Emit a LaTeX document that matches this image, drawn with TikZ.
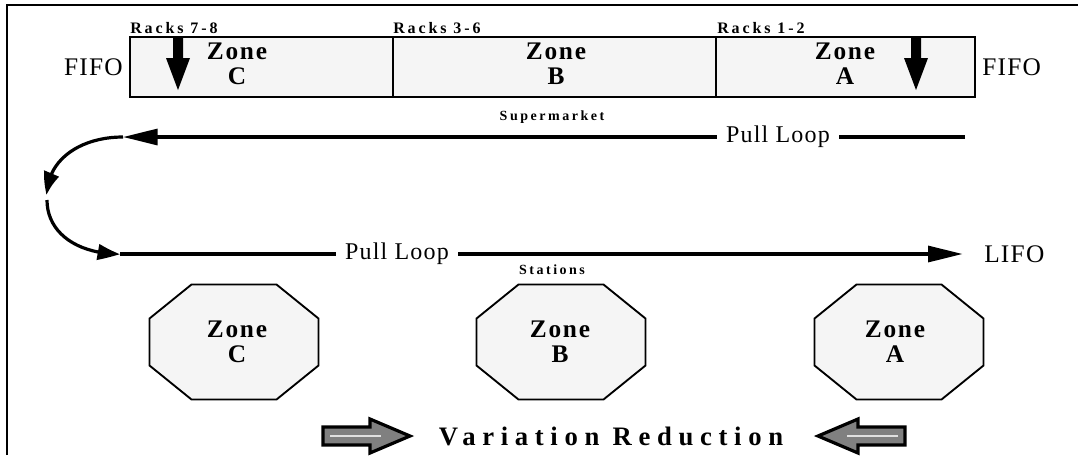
\documentclass[tikz,border=0pt]{standalone}
\usepackage{fontspec}
\setmainfont{Liberation Serif}
\usetikzlibrary{arrows.meta,bending}
\tikzset{
  frameline/.style={line width=1.5pt},
  rackbox/.style={draw, line width=1.4pt, fill=black!4, inner sep=0pt,
    minimum height=60*0.75pt},
  zonetext/.style={align=center, inner sep=0pt,
    font={\fontsize{19}{18.5}\selectfont\bfseries\addfontfeature{LetterSpace=7}}},
  rackslabel/.style={anchor=west, inner sep=0pt,
    font={\fontsize{12}{13}\selectfont\bfseries\addfontfeature{LetterSpace=18}}},
  smalllabel/.style={inner sep=0pt,
    font={\fontsize{10.5}{12}\selectfont\bfseries\addfontfeature{LetterSpace=18}}},
  bigword/.style={inner sep=0pt,
    font={\fontsize{19}{20}\selectfont\addfontfeature{LetterSpace=5}}},
  pullword/.style={inner sep=7pt,
    font={\fontsize{18}{20}\selectfont\addfontfeature{LetterSpace=5}}},
  titleword/.style={inner sep=0pt,
    font={\fontsize{20}{22}\selectfont\bfseries\addfontfeature{LetterSpace=25}}},
  loopline/.style={line width=2.4pt},
  looptip/.style={-{Triangle[length=26pt,width=12pt]}},
  curvetip/.style={-{Triangle[length=17pt,width=11.5pt,bend]}},
  octline/.style={draw, line width=1.4pt, fill=black!4},
  octagon/.pic={
    \path[octline] (-42.5,-57.5) -- (42.5,-57.5) -- (84.5,-23.5) -- (84.5,23.5)
      -- (42.5,57.5) -- (-42.5,57.5) -- (-84.5,23.5) -- (-84.5,-23.5) -- cycle;
  },
  droparrow/.pic={
    \fill (-5,0) -- (5,0) -- (5,21) -- (12,21) -- (0,53) -- (-12,21) -- (-5,21) -- cycle;
  },
  fatarrow/.pic={
    \path[draw=black, line width=2.4pt, fill=black!50, line join=miter]
      (0,-9) -- (47,-9) -- (47,-17) -- (87,0) -- (47,17) -- (47,9) -- (0,9) -- cycle;
    \draw[black!12, line width=2pt] (7,0) -- (58,0);
  }
}
\begin{document}
\begin{tikzpicture}[x=0.75pt,y=-0.75pt]
  \useasboundingbox (0,0) rectangle (1078,455);

  % outer frame (top and left edges)
  \draw[frameline] (7,455) -- (7,5) -- (1078,5);

  % supermarket racks
  \node[rackbox, minimum width=263*0.75pt] (rackC) at (261.5,67) {};
  \node[rackbox, minimum width=323*0.75pt] (rackB) at (554.5,67) {};
  \node[rackbox, minimum width=259*0.75pt] (rackA) at (845.5,67) {};

  \node[rackslabel] (lblC) at (130,28) {Racks 7-8};
  \node[rackslabel] (lblB) at (393,28) {Racks 3-6};
  \node[rackslabel] (lblA) at (717,28) {Racks 1-2};

  \node[zonetext] (zC) at (237,64) {Zone\\C};
  \node[zonetext] (zB) at (556,64) {Zone\\B};
  \node[zonetext] (zA) at (845,64) {Zone\\A};

  \pic at (178,37) {droparrow};
  \pic at (916,37) {droparrow};

  \node[bigword, anchor=east] (fifoL) at (123,67) {FIFO};
  \node[bigword, anchor=west] (fifoR) at (982,67) {FIFO};

  \node[smalllabel] (market) at (552,117) {Supermarket};

  % pull loops
  \coordinate (topR) at (965,137);
  \coordinate (topL) at (123,137);
  \coordinate (midU) at (47,195);
  \coordinate (midL) at (47,200);
  \coordinate (botL) at (120,254);
  \node[pullword] (pullTop) at (778,137) {Pull Loop};
  \node[pullword] (pullBot) at (397,254) {Pull Loop};
  \node[bigword, anchor=west] (lifo) at (984,254) {LIFO};

  \draw[loopline] (topR) -- (pullTop.east);
  \draw[loopline, looptip] (pullTop.west) -- (topL);
  \draw[loopline, curvetip] (topL) .. controls (80,137) and (47,160) .. (midU);
  \draw[loopline, curvetip] (midL) .. controls (47,232) and (76,254) .. (botL);
  \draw[loopline] (botL) -- (pullBot.west);
  \draw[loopline, looptip] (pullBot.east) -- ([xshift=-16pt]lifo.west);

  \node[smalllabel] (stations) at (552,270) {Stations};

  % stations
  \pic at (234,342) {octagon};
  \pic at (561,342) {octagon};
  \pic at (899,342) {octagon};
  \node[zonetext] (sC) at (237,342) {Zone\\C};
  \node[zonetext] (sB) at (560,342) {Zone\\B};
  \node[zonetext] (sA) at (895,342) {Zone\\A};

  % variation reduction
  \node[titleword] (title) at (611,436) {Variation Reduction};
  \pic at (323,436) {fatarrow};
  \pic[xscale=-1] at (905,436) {fatarrow};
\end{tikzpicture}
\end{document}
